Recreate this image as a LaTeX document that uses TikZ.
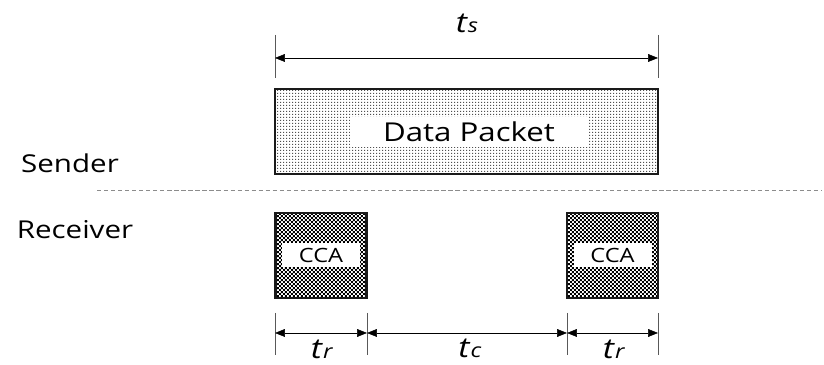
\documentclass[tikz,border=0pt]{standalone}
\usepackage{fontspec}
\setmainfont{Open Sans}
\usepackage{xcolor}
\usetikzlibrary{patterns,arrows.meta}
\definecolor{box_line}{HTML}{1a1a1a}
\definecolor{dot_gray}{HTML}{505050}
\definecolor{sep_gray}{HTML}{8c8c8c}

% fine patterns for the two kinds of boxes
\pgfdeclarepatternformonly{pktdots}{\pgfpointorigin}{\pgfpoint{2.3pt}{2.3pt}}{\pgfpoint{2.3pt}{2.3pt}}{%
  \pgfpathrectangle{\pgfpointorigin}{\pgfpoint{1pt}{1pt}}\pgfusepath{fill}}
\pgfdeclarepatternformonly{ccacheck}{\pgfpointorigin}{\pgfpoint{2.8pt}{2.8pt}}{\pgfpoint{2.8pt}{2.8pt}}{%
  \pgfpathrectangle{\pgfpointorigin}{\pgfpoint{1.4pt}{1.4pt}}%
  \pgfpathrectangle{\pgfpoint{1.4pt}{1.4pt}}{\pgfpoint{1.4pt}{1.4pt}}\pgfusepath{fill}}

% the text in the figure is set a little wide
\newcommand\widetext[1]{\scalebox{1.2}[1]{#1}}
\newcommand\tlabel[1]{\widetext{\textit{t}\fontsize{14}{14}\selectfont\textit{#1}}}

\tikzset{
  packet/.style={draw=box_line, line width=1.5pt, pattern=pktdots, pattern color=dot_gray,
    minimum width=9.575cm, minimum height=2.125cm, inner sep=0pt},
  ccabox/.style={draw=box_line, line width=1.5pt, pattern=ccacheck, pattern color=black,
    minimum width=2.275cm, minimum height=2.125cm, inner sep=0pt},
  label_band/.style={fill=white, inner sep=0pt},
  dimline/.style={{Triangle[length=7pt,width=5.5pt]}-{Triangle[length=7pt,width=5.5pt]}, thin},
  tick/.style={draw=black!65, thin},
  side/.style={font=\fontsize{17.5}{20}\selectfont},
  tname/.style={anchor=base, inner sep=0pt, font=\fontsize{20}{20}\selectfont}
}

\begin{document}
\begin{tikzpicture}
    \useasboundingbox (0,0) rectangle (20.6,9.125);

    % Sender side - data packet and its length
    \begin{scope}
      \node[packet] (pkt) at (11.66,5.84) {};
      \node[label_band, minimum width=5.95cm, minimum height=0.75cm,
            font=\fontsize{18.5}{20}\selectfont] (pkttxt) at (11.725,5.825) {\widetext{Data Packet}};

      \coordinate (ts_l) at (6.875,7.675);
      \coordinate (ts_r) at (16.45,7.675);
      \draw[tick] (6.875,8.25) -- (6.875,7.175);
      \draw[tick] (16.45,8.25) -- (16.45,7.175);
      \draw[dimline] (ts_l) -- (ts_r);
      \node[tname] (ts) at (11.675,8.3) {\tlabel{s}};
    \end{scope}

    % split between the two sides
    \node[side] (sender) at (1.75,5.05) {\widetext{Sender}};
    \node[side] (receiver) at (1.875,3.375) {\widetext{Receiver}};
    \coordinate (sep_l) at (2.425,4.375);
    \coordinate (sep_r) at (20.55,4.375);
    \draw[sep_gray, dashed, dash pattern=on 3pt off 2pt] (sep_l) -- (sep_r);

    % Receiver side - two CCA slots
    \begin{scope}
      \node[ccabox] (cca1) at (8.025,2.7375) {};
      \node[ccabox] (cca2) at (15.3125,2.7375) {};
      \node[label_band, minimum width=1.95cm, minimum height=0.6cm,
            font=\fontsize{14}{14}\selectfont] (cca1txt) at (cca1) {\widetext{CCA}};
      \node[label_band, minimum width=1.95cm, minimum height=0.6cm,
            font=\fontsize{14}{14}\selectfont] (cca2txt) at (cca2) {\widetext{CCA}};

      \coordinate (b1) at (6.875,0.8);
      \coordinate (b2) at (9.175,0.8);
      \coordinate (b3) at (14.175,0.8);
      \coordinate (b4) at (16.45,0.8);
      \foreach \x in {6.875,9.175,14.175,16.45}
        \draw[tick] (\x,1.3) -- (\x,0.25);

      \draw[dimline] (b1) -- (b2);
      \draw[dimline] (b2) -- (b3);
      \draw[dimline] (b3) -- (b4);

      % Add labels for the durations
      \node[tname] (tr1) at (8.05,0.16) {\tlabel{r}};
      \node[tname] (tc) at (11.75,0.175) {\tlabel{c}};
      \node[tname] (tr2) at (15.35,0.16) {\tlabel{r}};
    \end{scope}
  \end{tikzpicture}
\end{document}
